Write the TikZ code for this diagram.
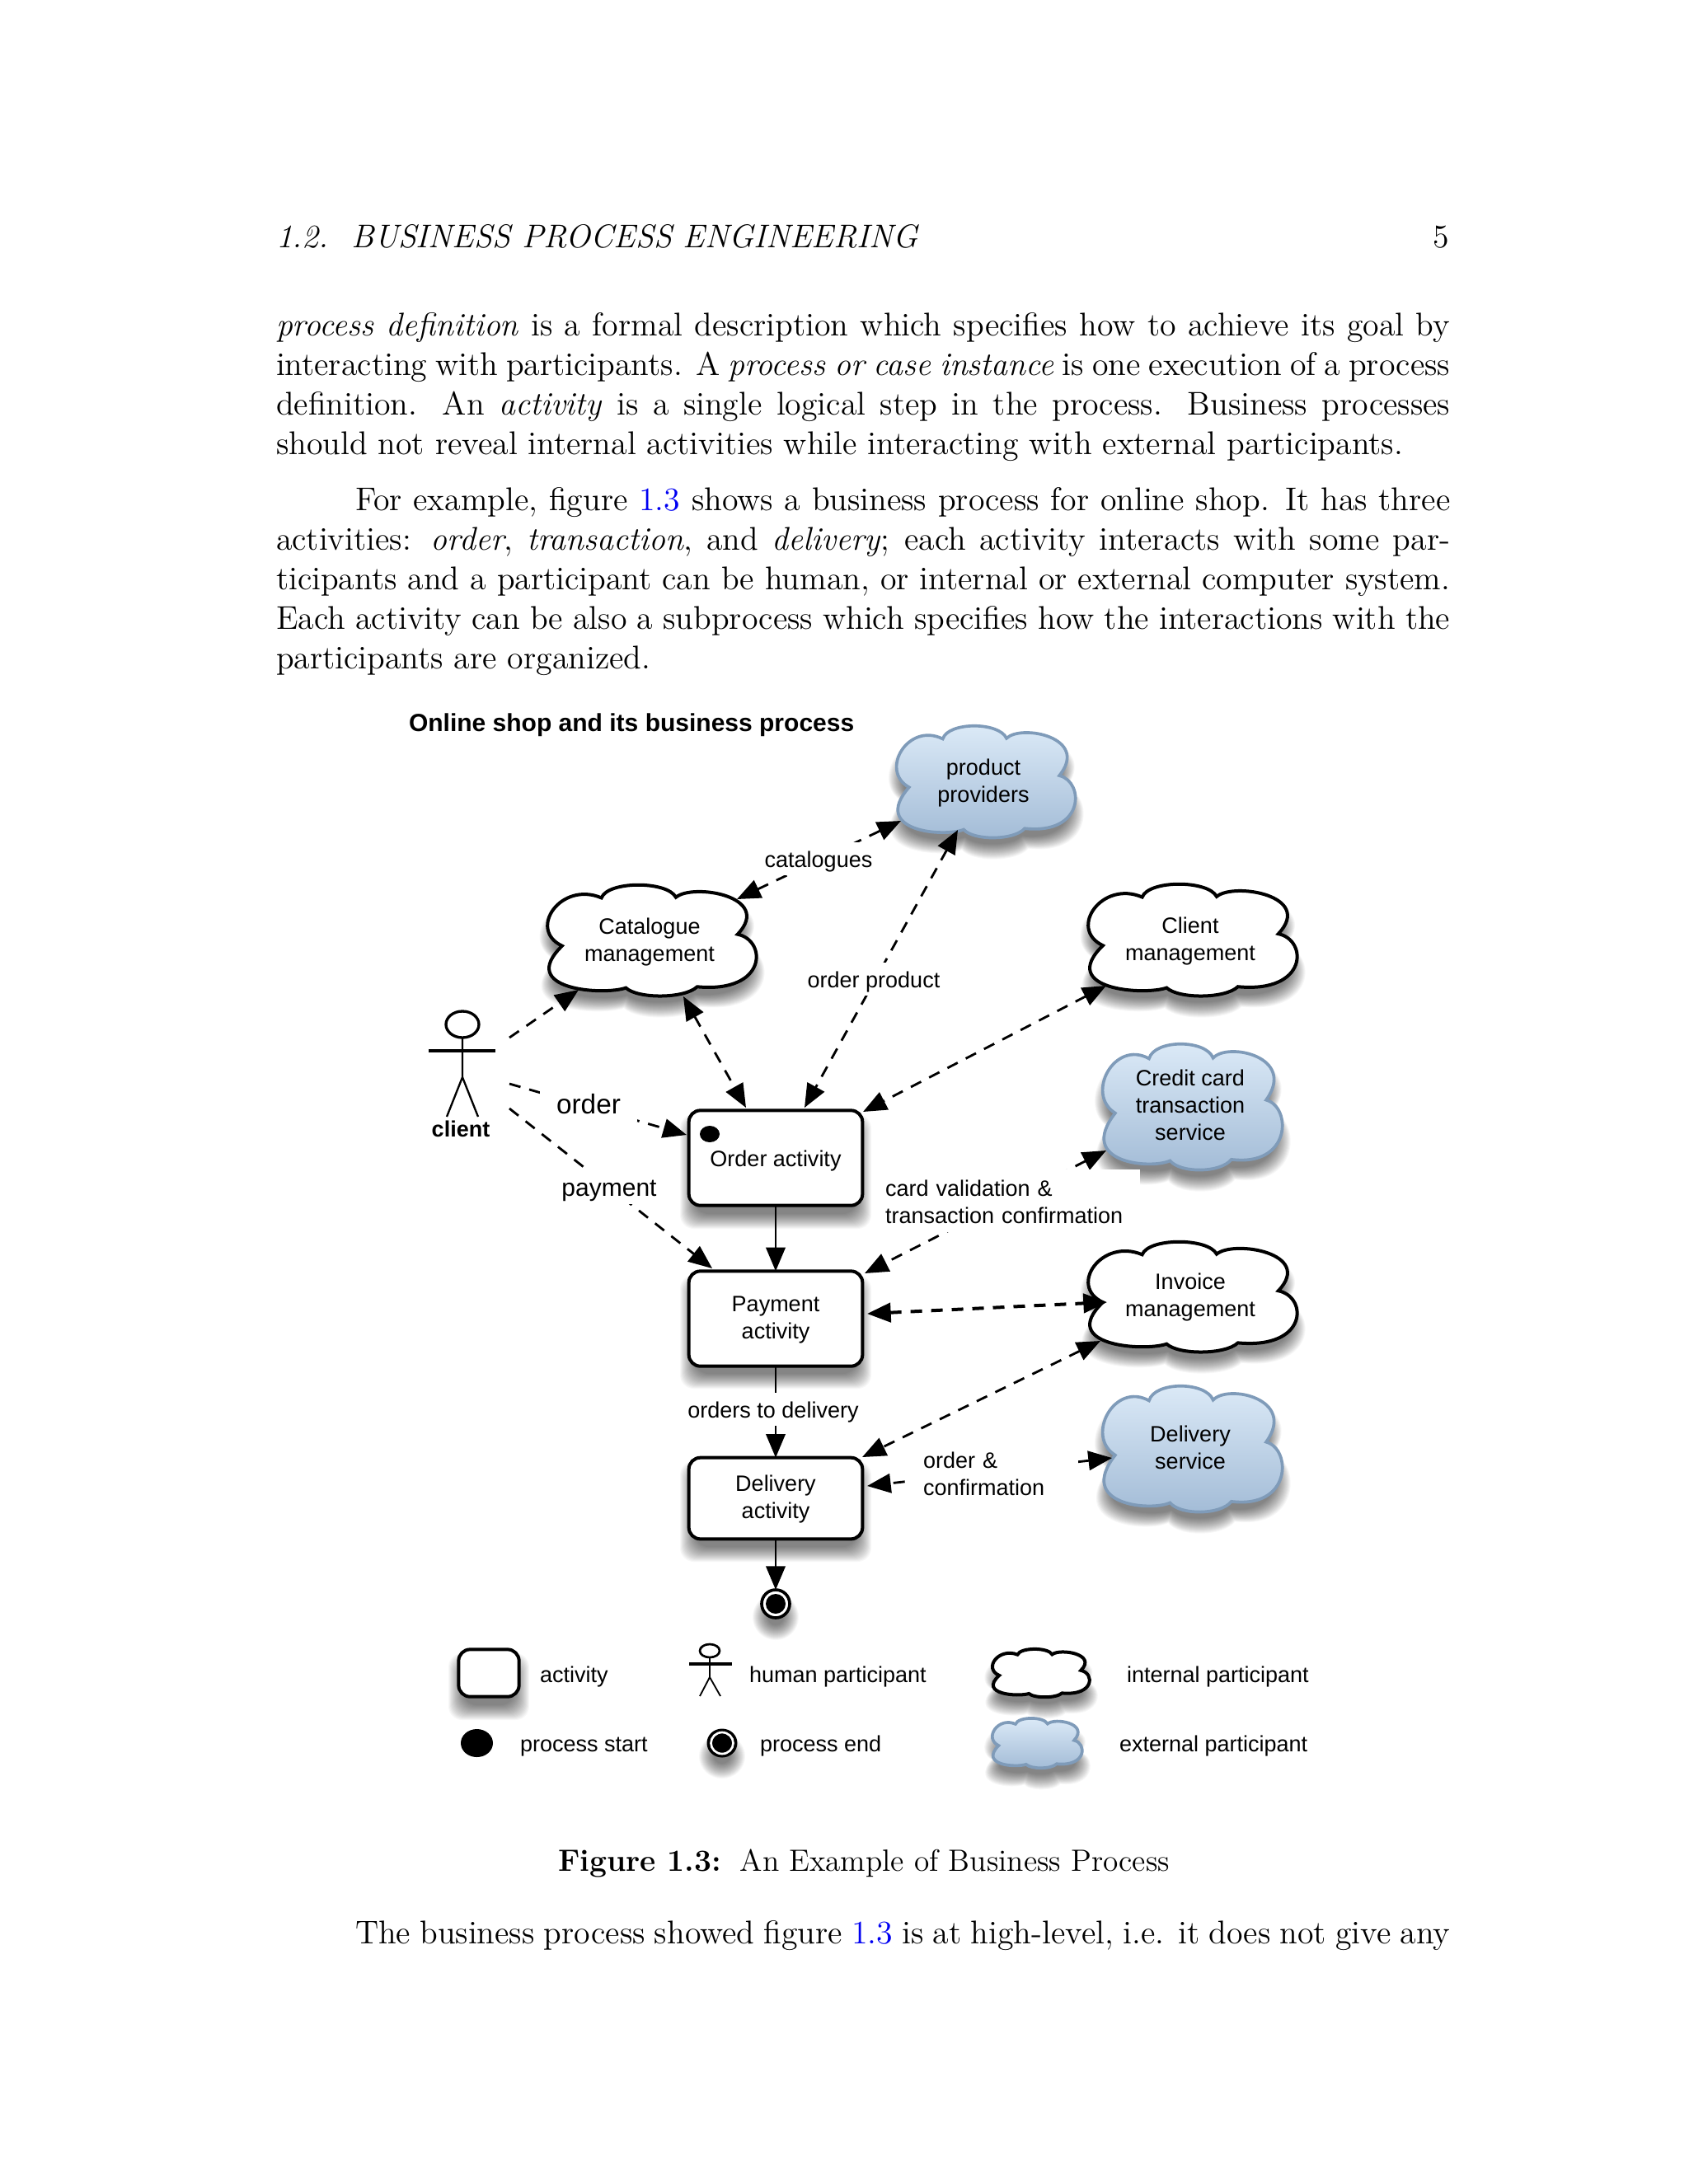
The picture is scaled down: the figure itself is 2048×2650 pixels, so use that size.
\documentclass[tikz,border=0pt]{standalone}
\usepackage{fontspec}
\newfontfamily\dia{Liberation Sans}
\usetikzlibrary{arrows.meta,shapes.geometric}
\definecolor{linkblue}{rgb}{0,0,0.95}
\definecolor{cloudtop}{HTML}{DDEBF8}
\definecolor{cloudbot}{HTML}{A2BBD6}
\definecolor{cloudedge}{HTML}{7F9BB9}
\def\pxu{0.29995}
\tikzset{
  bodyline/.style={anchor=base west,inner sep=0pt,outer sep=0pt,font=\fontsize{11.95}{14.5}\selectfont},
  lab/.style={inner sep=0pt,outer sep=0pt,align=center,text height=.8em,text depth=1.62pt,font=\dia\fontsize{8.1}{9.9}\selectfont},
  twolines/.style={text height=16.38pt},
  threelines/.style={text height=26.28pt},
  twowidth/.style={text depth=11.52pt},
  labw/.style={lab,fill=white,inner xsep=4pt,inner ysep=1.2pt},
  cloudtxt/.style={lab},
  actbox/.style={draw,line width=1.2pt,rounded corners=4.2pt,fill=white,inner sep=0pt,outer sep=0pt,minimum width=63.2pt,align=center,font=\dia\fontsize{8.1}{9.9}\selectfont,text height=.8em,text depth=1.62pt},
  conn/.style={line width=.85pt,-{Triangle[length=8.6pt,width=7pt]}},
  dconn/.style={conn,dash pattern=on 4.2pt off 3.3pt},
  ddconn/.style={dconn,{Triangle[length=8.6pt,width=7pt]}-{Triangle[length=8.6pt,width=7pt]}},
  wcloud/.style={draw=black,line width=1.2pt,fill=white},
  bcloud/.style={draw=cloudedge,line width=1.1pt,top color=cloudtop,bottom color=cloudbot},
  stick/.style={line width=.7pt,black},
}
% normalised cloud outline
\newcommand{\cloudoutline}{(.27,.115) .. controls (.30,-.04) and (.58,-.04) .. (.62,.11)
  .. controls (.70,-.02) and (1.08,.10) .. (.91,.445)
  .. controls (1.05,.50) and (1.05,.98) .. (.72,.92)
  .. controls (.66,1.03) and (.44,1.03) .. (.385,.93)
  .. controls (.28,1.0) and (-.13,.95) .. (.085,.55)
  .. controls (-.08,.40) and (.08,-.04) .. (.27,.115) -- cycle}
\def\padlist{10,9,8,7,6,5,4,3,2,1,0,-1,-2,-3,-4,-5,-6,-7,-8}
% x0 y0 w h style
\newcommand{\cloudshape}[5]{%
  \foreach \p in \padlist{%
    \pgfmathsetmacro\cw{(#3+2*\p)*\pxu}%
    \pgfmathsetmacro\ch{(#4+2*\p)*\pxu}%
    \begin{scope}[shift={(#1-\p,#2+16-\p)},x=\cw pt,y=-\ch pt]
      \fill[black,opacity=.03] \cloudoutline;
    \end{scope}}%
  \pgfmathsetmacro\cw{#3*\pxu}%
  \pgfmathsetmacro\ch{#4*\pxu}%
  \begin{scope}[shift={(#1,#2)},x=\cw pt,y=-\ch pt]
    \path[#5] \cloudoutline;
  \end{scope}}
% x0 y0 x1 y1
\newcommand{\boxshadow}[4]{%
  \foreach \p in \padlist{%
    \fill[black,opacity=.03,rounded corners=5pt] (#1-\p,#2+16-\p) rectangle (#3+\p,#4+16+\p);}}
\newcommand{\ellshadow}[4]{%
  \foreach \p in \padlist{%
    \fill[black,opacity=.03] (#1,#2+16) ellipse [x radius=#3+\p,y radius=#4+\p];}}
\begin{document}
\begin{tikzpicture}[x=0.29995pt,y=-0.29995pt]
\useasboundingbox (0,0) rectangle (2048,2650);
\fill[white] (0,0) rectangle (2048,2650);
% ---------- page text
\node[bodyline] (head) at (335,300) {\textit{1.2.\hspace{0.7em}BUSINESS PROCESS ENGINEERING}};
\node[bodyline,anchor=base east] (pageno) at (1758,300) {5};
\newcommand{\bodyl}[3]{\node[bodyline] (#1) at (335,#2) {\makebox[427.2pt][s]{#3}};}
\bodyl{la}{407}{\textit{process definition} is a formal description which specifies how to achieve its goal by}
\bodyl{lb}{455}{interacting with participants. A \textit{process or case instance} is one execution of a process}
\bodyl{lc}{503}{definition. An \textit{activity} is a single logical step in the process. Business processes}
\node[bodyline] (ld) at (335,551) {should not reveal internal activities while interacting with external participants.};
\node[bodyline] (le) at (431,619) {\makebox[398.5pt][s]{For example, figure \textcolor{linkblue}{1.3} shows a business process for online shop. It has three}};
\bodyl{lf}{667}{activities: \textit{order}, \textit{transaction}, and \textit{delivery}; each activity interacts with some par-}
\bodyl{lg}{715}{ticipants and a participant can be human, or internal or external computer system.}
\bodyl{lh}{763}{Each activity can be also a subprocess which specifies how the interactions with the}
\node[bodyline] (li) at (335,811) {participants are organized.};
\node[bodyline,anchor=base,font=\fontsize{11.2}{14}\selectfont] (cap) at (1048,2270) {\textbf{Figure 1.3:}\hspace{0.6em}An Example of Business Process};
\node[bodyline] (lj) at (431,2358) {\makebox[398.5pt][s]{The business process showed figure \textcolor{linkblue}{1.3} is at high-level, i.e. it does not give any}};
% ---------- title
\node[lab,anchor=west,font=\dia\bfseries\fontsize{9}{11}\selectfont] (title) at (496,877) {Online shop and its business process};
% ---------- shadows and clouds
\cloudshape{1084}{881}{221}{135}{bcloud}
\cloudshape{660}{1074}{258}{134}{wcloud}
\cloudshape{1316}{1073}{258}{135}{wcloud}
\cloudshape{1334}{1267}{222}{152}{bcloud}
\cloudshape{1316}{1507}{258}{133}{wcloud}
\cloudshape{1334}{1682}{222}{152}{bcloud}
\node[cloudtxt,twolines] (prov) at (1193,949) {product\\providers};
\node[cloudtxt,twolines] (cat) at (788,1142) {Catalogue\\management};
\node[cloudtxt,twolines] (cm) at (1444,1141) {Client\\management};
\node[cloudtxt,threelines] (cc) at (1444,1342) {Credit card\\transaction\\service};
\node[cloudtxt,twolines] (inv) at (1444,1573) {Invoice\\management};
\node[cloudtxt,twolines] (ds) at (1444,1758) {Delivery\\service};
% ---------- activities
\boxshadow{835}{1346}{1047}{1465}
\boxshadow{835}{1541}{1047}{1659}
\boxshadow{835}{1767}{1047}{1869}
\node[actbox,minimum height=34.6pt] (order) at (941,1405) {Order activity};
\node[actbox,minimum height=34.6pt,twolines] (pay) at (941,1600) {Payment\\activity};
\node[actbox,minimum height=29.6pt,twolines] (del) at (941,1818) {Delivery\\activity};
\fill[black] (861,1376) ellipse [x radius=12,y radius=10];
% ---------- end state
\ellshadow{941}{1946}{18}{18}
\node[circle,fill=white,draw=black,line width=1.1pt,minimum size=10.2pt,inner sep=0pt,outer sep=0pt] (endst) at (941,1946) {};
\fill[black] (endst.center) circle (12);
% ---------- client
\node[lab,font=\dia\bfseries\fontsize{8.1}{9.9}\selectfont] (client) at (559,1369) {client};
\draw[line width=1pt,fill=white] (561,1243) ellipse [x radius=20,y radius=16];
\draw[line width=1.2pt] (520,1275) -- (601,1275);
\draw[stick] (561,1259) -- (561,1307) (542,1355) -- (561,1307) -- (580,1355);
% ---------- connectors
\draw[dconn] ([shift={(59,-110)}]client.center) -- ([shift={(-86,59)}]cat.center);
\draw[ddconn] ([shift={(106,-51)}]cat.center) -- ([shift={(-100,47)}]prov.center);
\draw[ddconn] ([shift={(-31,58)}]prov.center) -- ([shift={(35,-61)}]order.center);
\draw[ddconn] ([shift={(41,67)}]cat.center) -- ([shift={(-36,-61)}]order.center);
\draw[ddconn] ([shift={(-102,55)}]cm.center) -- ([shift={(106,-56)}]order.center);
\draw[dconn] ([shift={(59,-54)}]client.center) -- ([shift={(-108,-28)}]order.center);
\draw[dconn] ([shift={(59,-24)}]client.center) -- ([shift={(-77,-61)}]pay.center);
\draw[conn] (order.south) -- (pay.north);
\draw[ddconn] ([shift={(-102,54)}]cc.center) -- ([shift={(108,-55)}]pay.center);
\draw[ddconn,line width=1.2pt] ([shift={(111,-6)}]pay.center) -- ([shift={(-101,7)}]inv.center);
\draw[conn] (pay.south) -- (del.north);
\draw[ddconn] ([shift={(-109,54)}]inv.center) -- ([shift={(105,-50)}]del.center);
\draw[ddconn] ([shift={(-95,11)}]ds.center) -- ([shift={(111,-15)}]del.center);
\draw[conn] (del.south) -- (endst.north);
% ---------- connector labels
\node[labw] (lcat) at (993,1042) {catalogues};
\node[labw,inner xsep=1pt] (lop) at (1060,1188) {order product};
\node[labw,inner xsep=6pt,font=\dia\fontsize{10}{12}\selectfont] (lord) at (714,1341) {order};
\node[labw,inner xsep=4pt,font=\dia\fontsize{9}{11}\selectfont] (lpay) at (739,1441) {payment};
\node[labw,twowidth,anchor=west,align=left,text width=88.5pt,inner xsep=4.2pt,inner ysep=1.5pt] (lcv) at (1060,1457) {card validation \&\\transaction confirmation};
\node[labw,inner xsep=1pt] (lotd) at (938,1710) {orders to delivery};
\node[labw,twowidth,anchor=west,align=left,text width=52pt,inner xsep=4.5pt,inner ysep=1pt] (loc) at (1105,1787) {order \&\\confirmation};
% ---------- legend
\boxshadow{554}{2000}{632}{2061}
\node[actbox,minimum width=22pt,minimum height=17.2pt] (lgbox) at (593,2030) {};
\node[lab,anchor=west] (t1) at (655,2031) {activity};
\draw[line width=.8pt,fill=white] (861,2003) ellipse [x radius=12,y radius=8];
\draw[line width=1.1pt] (836,2019) -- (888,2019);
\draw[line width=.55pt] (861,2011) -- (861,2035) (849,2058) -- (861,2035) -- (874,2058);
\node[lab,anchor=west] (t2) at (909,2031) {human participant};
\cloudshape{1202}{2001}{120}{58}{wcloud}
\node[lab,anchor=west] (t3) at (1367,2031) {internal participant};
\fill[black] (578.5,2115) ellipse [x radius=19.5,y radius=17];
\node[lab,anchor=west] (t4) at (631,2115) {process start};
\ellshadow{876}{2115}{18}{17}
\fill[black] (876,2115) ellipse [x radius=18.5,y radius=17.5];
\draw[white,line width=.8pt] (876,2115) ellipse [x radius=13.5,y radius=13];
\node[lab,anchor=west] (t5) at (922,2115) {process end};
\cloudshape{1202}{2085}{111}{60}{bcloud}
\node[lab,anchor=west] (t6) at (1358,2115) {external participant};
\end{tikzpicture}
\end{document}
